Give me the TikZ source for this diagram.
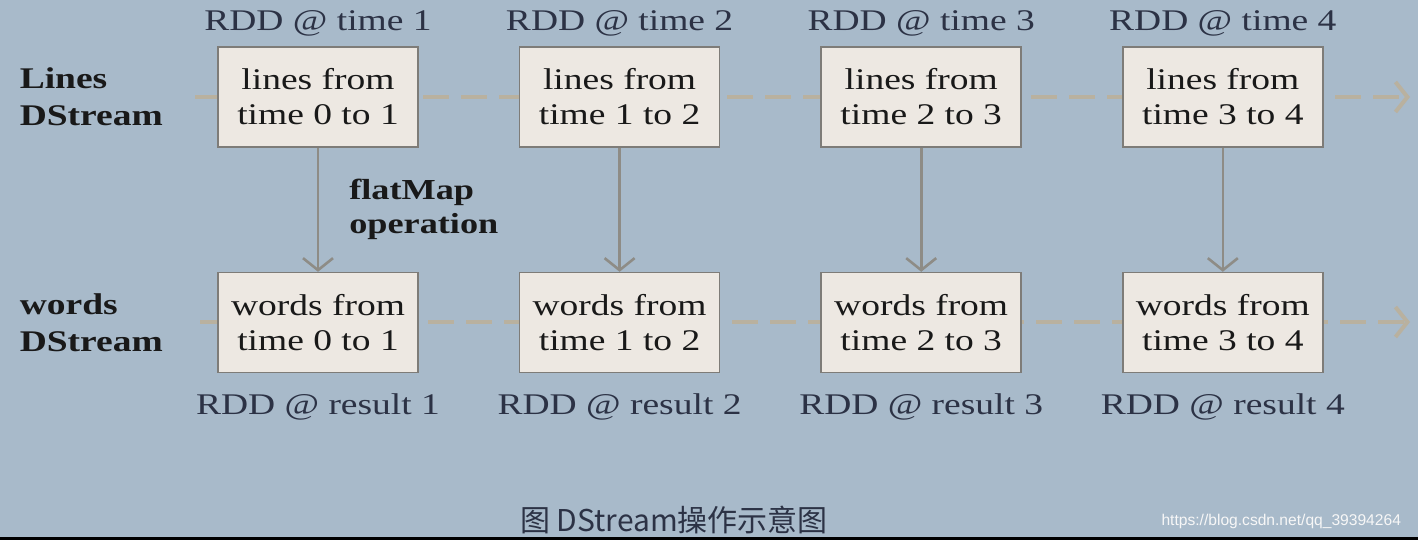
\documentclass[tikz,border=0pt]{standalone}
\usepackage{fontspec}
\setmainfont{Liberation Serif}[FakeStretch=1.25]
\newfontfamily\cjkfont{Noto Sans CJK SC}
\newfontfamily\urlfont{Liberation Sans}
\usetikzlibrary{positioning, arrows.meta}
\definecolor{paper}{HTML}{A8BACA}
\definecolor{boxfill}{HTML}{EDE8E2}
\definecolor{boxline}{HTML}{7E7C78}
\definecolor{arrowgray}{HTML}{8E8C86}
\definecolor{dashtan}{HTML}{B9B19F}
\definecolor{inkblue}{HTML}{2C3245}
\tikzset{
        >={Straight Barb[length=6pt, width=15pt]}, % open arrow heads
        node distance=50pt, % gap between two boxes of a row
        rdd/.style={draw=boxline, fill=boxfill, line width=0.8pt, minimum width=100pt,
          minimum height=50pt, align=center, text=black!90,
          font=\fontsize{15}{17.5}\selectfont}, % one RDD of a DStream
        stamp/.style={inner sep=0pt, text=inkblue, font=\fontsize{15}{17.5}\selectfont},
        streamname/.style={inner sep=0pt, align=left, text=black!90,
          font=\fontsize{15}{18.5}\selectfont\bfseries},
        opnote/.style={inner sep=0pt, align=left, text=black!90,
          font=\fontsize{14.5}{17}\selectfont\bfseries},
        stream/.style={->, draw=dashtan, line width=2pt, dash pattern=on 13pt off 6pt},
        flow/.style={->, draw=arrowgray, line width=1.3pt},
        figcaption/.style={text=inkblue, font=\cjkfont\fontsize{15}{18}\selectfont},
        watermark/.style={text=white!94!gray, font=\urlfont\fontsize{7.8}{10}\selectfont},
    }
\begin{document}
\begin{tikzpicture}[x=0.5pt, y=-0.5pt]
    % page
    \fill[paper] (0,0) rectangle (1418,540);
    \fill[black] (0,537) rectangle (1418,540);
    \useasboundingbox (0,0) rectangle (1418,540);
    % time axes
    \coordinate (lstart) at (195,97);
    \coordinate (lend) at (1410,97);
    \coordinate (wstart) at (200,322);
    \coordinate (wend) at (1410,322);
    \draw[stream] (lstart) -- (lend);
    \draw[stream] (wstart) -- (wend);
    % lines DStream
    \node[rdd] (l1) at (318,97) {lines from\\time 0 to 1};
    \node[rdd, right=of l1] (l2) {lines from\\time 1 to 2};
    \node[rdd, right=of l2] (l3) {lines from\\time 2 to 3};
    \node[rdd, right=of l3] (l4) {lines from\\time 3 to 4};
    % words DStream
    \node[rdd, below=62pt of l1] (w1) {words from\\time 0 to 1};
    \node[rdd, right=of w1] (w2) {words from\\time 1 to 2};
    \node[rdd, right=of w2] (w3) {words from\\time 2 to 3};
    \node[rdd, right=of w3] (w4) {words from\\time 3 to 4};
    % labels
    \node[stamp, above=5pt of l1] (t1) {RDD @ time 1};
    \node[stamp, above=5pt of l2] (t2) {RDD @ time 2};
    \node[stamp, above=5pt of l3] (t3) {RDD @ time 3};
    \node[stamp, above=5pt of l4] (t4) {RDD @ time 4};
    \node[stamp, below=10pt of w1] (r1) {RDD @ result 1};
    \node[stamp, below=10pt of w2] (r2) {RDD @ result 2};
    \node[stamp, below=10pt of w3] (r3) {RDD @ result 3};
    \node[stamp, below=10pt of w4] (r4) {RDD @ result 4};
    \node[streamname, left=27pt of l1] (lname) {Lines\\DStream};
    \node[streamname, left=27pt of w1] (wname) {words\\DStream};
    % flatMap
    \draw[flow] (l1) -- node[opnote, right=15pt] (op) {flatMap\\operation} (w1);
    \draw[flow] (l2) -- (w2);
    \draw[flow] (l3) -- (w3);
    \draw[flow] (l4) -- (w4);
    \node[figcaption] (cap) at (674,520) {图 DStream操作示意图};
    \node[watermark, anchor=east] (url) at (1408,521) {https://blog.csdn.net/qq\_39394264};
\end{tikzpicture}
\end{document}
